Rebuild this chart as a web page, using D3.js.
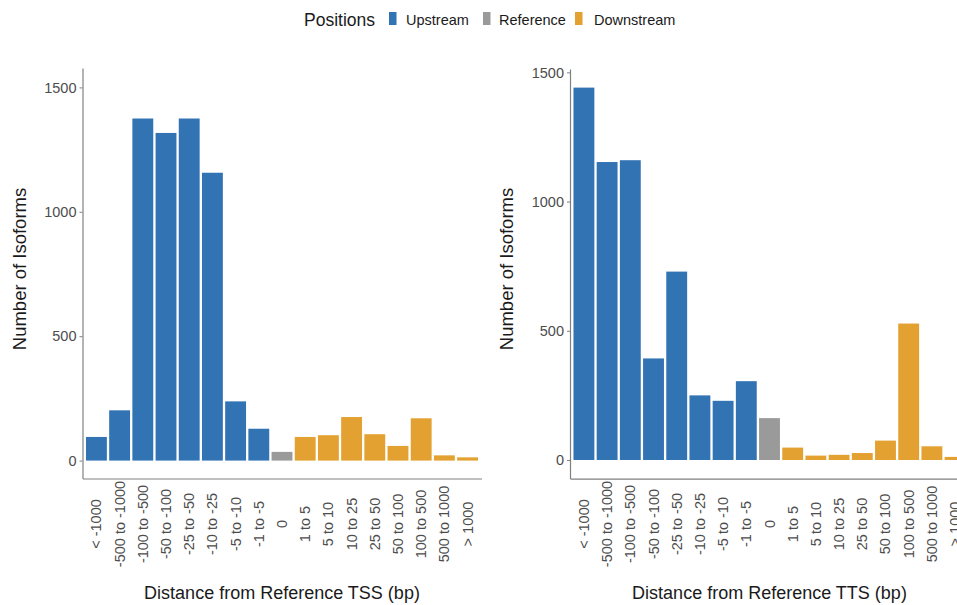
<!DOCTYPE html>
<html>
<head>
<meta charset="utf-8">
<script src="https://cdn.jsdelivr.net/npm/d3@7"></script>
<style>
  html, body { margin: 0; padding: 0; background: #fff; }
  svg { display: block; font-family: "Liberation Sans", Arial, sans-serif; }
</style>
</head>
<body>
<svg id="chart" width="957" height="605"></svg>
<script>
// Distance bins shared by both panels
const categories = ["< -1000", "-500 to -1000", "-100 to -500", "-50 to -100", "-25 to -50",
  "-10 to -25", "-5 to -10", "-1 to -5", "0", "1 to 5", "5 to 10", "10 to 25",
  "25 to 50", "50 to 100", "100 to 500", "500 to 1000", "> 1000"];
// Position group of each bin
const positions = ["Upstream", "Upstream", "Upstream", "Upstream", "Upstream",
  "Upstream", "Upstream", "Upstream", "Reference", "Downstream", "Downstream", "Downstream",
  "Downstream", "Downstream", "Downstream", "Downstream", "Downstream"];
// Isoform counts per bin
const tssCounts = [95, 202, 1375, 1317, 1375, 1157, 238, 128, 35, 95, 102, 175, 106, 59, 170, 21, 13];
const ttsCounts = [1441, 1153, 1160, 393, 729, 250, 229, 305, 162, 48, 17, 20, 27, 75, 528, 53, 12];
const yTicks = [0, 500, 1000, 1500];
const legendGroups = ["Upstream", "Reference", "Downstream"];

const color = d3.scaleOrdinal()
  .domain(legendGroups)
  .range(["#3173b3", "#9a9a9a", "#e3a131"]);

const svg = d3.select("#chart");

function panel(opts) {
  const { counts, left, right, top, bottom, yDomain, yTitleX, xTitle } = opts;
  const g = svg.append("g");
  const data = categories.map((c, i) => ({ cat: c, pos: positions[i], n: counts[i] }));

  const x = d3.scaleBand().domain(categories).range([left, right])
    .paddingInner(0.1).paddingOuter(0.15);
  const y = d3.scaleLinear().domain(yDomain).range([bottom, top]);

  // bars
  g.selectAll("rect.bar").data(data).join("rect")
    .attr("class", "bar")
    .attr("x", d => x(d.cat))
    .attr("width", x.bandwidth())
    .attr("y", d => y(d.n))
    .attr("height", d => y(0) - y(d.n))
    .attr("fill", d => color(d.pos));

  // y axis
  const yAxis = g.append("g")
    .attr("transform", `translate(${left},0)`)
    .call(d3.axisLeft(y).tickValues(yTicks).tickFormat(d3.format("d"))
      .tickSize(3).tickSizeOuter(0).tickPadding(3));
  yAxis.select(".domain").attr("stroke", "#808080").attr("stroke-width", 1.2);
  yAxis.selectAll(".tick line").attr("stroke", "#808080");
  yAxis.selectAll(".tick text")
    .attr("fill", "#4d4d4d")
    .style("font-size", "14.5px")
    .style("font-family", "'Liberation Sans', Arial, sans-serif");

  // x axis line
  const xAxis = g.append("g")
    .attr("transform", `translate(0,${bottom})`)
    .call(d3.axisBottom(x).tickSize(0).tickSizeOuter(0).tickFormat(""));
  xAxis.select(".domain").attr("stroke", "#808080").attr("stroke-width", 1.2);

  // rotated category labels
  g.selectAll("text.xlab").data(categories).join("text")
    .attr("class", "xlab")
    .attr("transform", d => `translate(${x(d) + x.bandwidth() / 2},524) rotate(-90)`)
    .attr("text-anchor", "middle")
    .attr("dominant-baseline", "central")
    .attr("fill", "#4d4d4d")
    .style("font-size", "14.5px")
    .text(d => d);

  // axis titles
  g.append("text")
    .attr("x", (left + right) / 2).attr("y", 599)
    .attr("text-anchor", "middle")
    .attr("fill", "#1a1a1a")
    .style("font-size", "18px")
    .text(xTitle);

  g.append("text")
    .attr("transform", `translate(${yTitleX},269) rotate(-90)`)
    .attr("text-anchor", "middle")
    .attr("dominant-baseline", "central")
    .attr("fill", "#1a1a1a")
    .style("font-size", "18.5px")
    .text("Number of Isoforms");
}

panel({ counts: tssCounts, left: 82.5, right: 481.5, top: 68, bottom: 478.5,
  yDomain: [-72, 1578], yTitleX: 19, xTitle: "Distance from Reference TSS (bp)" });
panel({ counts: ttsCounts, left: 570, right: 969, top: 69, bottom: 478.6,
  yDomain: [-72, 1513], yTitleX: 506, xTitle: "Distance from Reference TTS (bp)" });

// legend
const legend = svg.append("g");
legend.append("text")
  .attr("x", 304).attr("y", 25.5)
  .attr("fill", "#1a1a1a")
  .style("font-size", "17.5px")
  .text("Positions");
const keyX = [389, 483, 575];
const labelX = [406, 499, 594];
legendGroups.forEach((grp, i) => {
  legend.append("rect")
    .attr("x", keyX[i]).attr("y", 12)
    .attr("width", 7.5).attr("height", 13)
    .attr("fill", color(grp));
  legend.append("text")
    .attr("x", labelX[i]).attr("y", 24.5)
    .attr("fill", "#1a1a1a")
    .style("font-size", "14.5px")
    .text(grp);
});
</script>
</body>
</html>
